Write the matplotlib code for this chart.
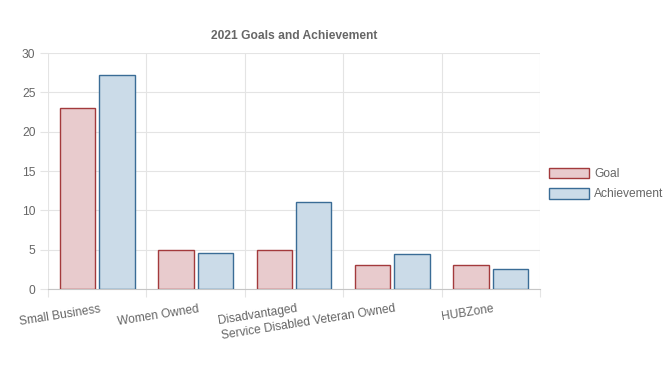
import numpy as np
import matplotlib
matplotlib.use("Agg")
import matplotlib.pyplot as plt
from matplotlib.patches import Patch
from matplotlib import transforms

plt.rcParams['font.family'] = ['Liberation Sans', 'DejaVu Sans']

categories = ["Small Business", "Women Owned", "Disadvantaged",
              "Service Disabled Veteran Owned", "HUBZone"]
goal = [23, 5, 5, 3, 3]
achievement = [27.2, 4.6, 11, 4.4, 2.5]
yticks = [0, 5, 10, 15, 20, 25, 30]

goal_fill, goal_edge = "#e8cbcd", "#a33a3c"
ach_fill, ach_edge = "#cbdbe8", "#3a6c96"
grid_c = "#e4e4e4"
text_c = "#666666"
fs = 8.64  # 12px

fig = plt.figure(figsize=(6.68, 3.75), dpi=100)
ax = fig.add_axes([48/668, 1-289/375, (540-48)/668, (289-53)/375])

x = np.arange(len(categories))
w = 0.36
ax.bar(x - 0.2, goal, w, color=goal_fill, edgecolor=goal_edge, linewidth=1.0, zorder=3)
ax.bar(x + 0.2, achievement, w, color=ach_fill, edgecolor=ach_edge, linewidth=1.0, zorder=3)

ax.set_xlim(-0.5, len(categories) - 0.5)
ax.set_ylim(0, 30)
ax.set_yticks(yticks)
ax.set_yticklabels([str(v) for v in yticks], fontsize=fs, color=text_c)
ax.tick_params(axis="y", length=6, color=grid_c, width=0.8, pad=3)

# vertical grid at category boundaries
bounds = np.arange(len(categories) + 1) - 0.5
ax.set_xticks(bounds)
ax.set_xticklabels([])
ax.tick_params(axis="x", length=6, color=grid_c, width=0.8)
ax.grid(True, color=grid_c, linewidth=0.8, zorder=0)
for s in ["top", "right", "left"]:
    ax.spines[s].set_visible(False)
ax.spines["bottom"].set_color("#c6c6c6")
ax.spines["bottom"].set_linewidth(0.8)

# rotated category labels, right end at category centre
for i, lab in enumerate(categories):
    tr = transforms.blended_transform_factory(ax.transData, ax.transAxes)
    tr = tr + transforms.ScaledTranslation(2/100, -14/100, fig.dpi_scale_trans)
    ax.text(i, 0, lab, transform=tr, rotation=9, rotation_mode="anchor",
            ha="right", va="top", fontsize=fs, color=text_c)

fig.text(294/668, 1-36/375, "2021 Goals and Achievement", ha="center", va="center",
         fontsize=fs, fontweight="bold", color=text_c)

handles = [Patch(facecolor=goal_fill, edgecolor=goal_edge, linewidth=1.0, label="Goal"),
           Patch(facecolor=ach_fill, edgecolor=ach_edge, linewidth=1.0, label="Achievement")]
leg = fig.legend(handles=handles, loc="center left", bbox_to_anchor=(544/668, 1-184/375),
                 frameon=False, fontsize=fs, handlelength=3.33, handleheight=1.0,
                 handletextpad=0.45, labelspacing=0.65, borderaxespad=0)
for t in leg.get_texts():
    t.set_color(text_c)

fig.savefig("out.png", dpi=100)
